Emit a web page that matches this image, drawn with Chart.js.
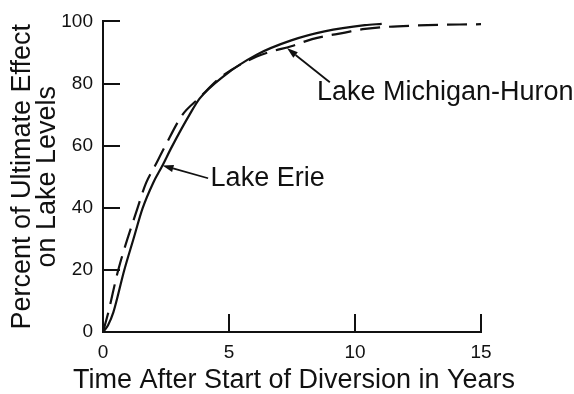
<!DOCTYPE html>
<html>
<head>
<meta charset="utf-8">
<script src="https://cdn.jsdelivr.net/npm/chart.js@4"></script>
<style>
  html, body { margin: 0; padding: 0; background: #fff; }
  #wrap { width: 574px; height: 394px; }
</style>
</head>
<body>
<div id="wrap"><canvas id="chart" width="574" height="394"></canvas></div>
<script>
// Response of lake levels after the start of a diversion (percent of ultimate effect)
const erieYears = [0, 0.2, 0.41, 0.84, 1.2, 1.57, 1.99, 2.36, 2.73, 3.43, 3.84, 4.78, 6.1, 7.47, 8.79, 10.39, 11.06];
const erieEffect = [0, 2.2, 6.3, 19.8, 29.7, 39.8, 48.0, 53.6, 59.6, 69.9, 75.2, 82.3, 89.3, 93.9, 96.8, 98.8, 99.2];

const michHuronYears = [0, 0.21, 0.6, 1.37, 1.71, 2.07, 2.45, 3.15, 3.8, 4.72, 6.1, 6.67, 7.47, 8.3, 9.6, 10.4, 12.5, 15];
const michHuronEffect = [0, 6.3, 19.8, 39.9, 48.0, 53.6, 59.6, 69.9, 75.2, 82.3, 88.7, 90.3, 92.0, 94.3, 96.4, 97.6, 98.7, 99.1];

const xTicks = [0, 5, 10, 15];
const yTicks = [0, 20, 40, 60, 80, 100];

const xTitle = 'Time After Start of Diversion in Years';
const yTitle = ['Percent of Ultimate Effect', 'on Lake Levels'];

const INK = '#111';
const FONT = "'Liberation Sans', Arial, Helvetica, sans-serif";

// Callout labels with leader arrows, placed in data units
const callouts = [
  { text: 'Lake Erie', tip: [2.36, 53.6], tail: [4.17, 49.5], label: [4.27, 47.0] },
  { text: 'Lake Michigan-Huron', tip: [7.3, 91.4], tail: [9.0, 80.4], label: [8.49, 74.8] }
];

const pairs = (xs, ys) => xs.map((x, i) => ({ x, y: ys[i] }));

// Tick marks drawn inward from the axis lines
const inwardTicks = {
  id: 'inwardTicks',
  afterDatasetsDraw(chart) {
    const { ctx, chartArea, scales } = chart;
    ctx.save();
    ctx.strokeStyle = INK;
    ctx.lineWidth = 2;
    ctx.lineCap = 'butt';
    yTicks.forEach(v => {
      if (v === 0) return;
      const y = Math.round(scales.y.getPixelForValue(v));
      ctx.beginPath();
      ctx.moveTo(chartArea.left, y);
      ctx.lineTo(chartArea.left + 17, y);
      ctx.stroke();
    });
    xTicks.forEach(v => {
      if (v === 0) return;
      const x = Math.round(scales.x.getPixelForValue(v));
      ctx.beginPath();
      ctx.moveTo(x, chartArea.bottom);
      ctx.lineTo(x, chartArea.bottom - 18);
      ctx.stroke();
    });
    ctx.restore();
  }
};

// Callouts and the horizontal axis title (drawn at full width, not squeezed to the axis length)
const textPlugin = {
  id: 'callouts',
  afterDatasetsDraw(chart) {
    const { ctx, scales, chartArea } = chart;
    const px = p => [scales.x.getPixelForValue(p[0]), scales.y.getPixelForValue(p[1])];
    ctx.save();
    ctx.strokeStyle = INK;
    ctx.fillStyle = INK;
    ctx.lineWidth = 1.8;
    callouts.forEach(c => {
      const [tx, ty] = px(c.tip);
      const [lx, ly] = px(c.tail);
      const ang = Math.atan2(ty - ly, tx - lx);
      const head = 11, half = 3.6;
      const bx = tx - head * Math.cos(ang), by = ty - head * Math.sin(ang);
      ctx.beginPath();
      ctx.moveTo(lx, ly);
      ctx.lineTo(bx, by);
      ctx.stroke();
      ctx.beginPath();
      ctx.moveTo(tx, ty);
      ctx.lineTo(bx + half * Math.sin(ang), by - half * Math.cos(ang));
      ctx.lineTo(bx - half * Math.sin(ang), by + half * Math.cos(ang));
      ctx.closePath();
      ctx.fill();
      const [sx, sy] = px(c.label);
      ctx.font = `27px ${FONT}`;
      ctx.textAlign = 'left';
      ctx.textBaseline = 'alphabetic';
      ctx.fillText(c.text, sx, sy);
    });
    ctx.font = `27px ${FONT}`;
    ctx.textAlign = 'center';
    ctx.textBaseline = 'alphabetic';
    ctx.fillText(xTitle, (chartArea.left + chartArea.right) / 2 + 2, scales.x.bottom - 6);
    ctx.restore();
  }
};

new Chart(document.getElementById('chart'), {
  type: 'line',
  data: {
    datasets: [
      {
        label: 'Lake Erie',
        data: pairs(erieYears, erieEffect),
        borderColor: INK,
        borderWidth: 2.2,
        pointRadius: 0,
        fill: false,
        cubicInterpolationMode: 'monotone'
      },
      {
        label: 'Lake Michigan-Huron',
        data: pairs(michHuronYears, michHuronEffect),
        borderColor: INK,
        borderWidth: 2.2,
        borderDash: [20, 9],
        pointRadius: 0,
        fill: false,
        cubicInterpolationMode: 'monotone'
      }
    ]
  },
  options: {
    responsive: false,
    animation: false,
    layout: { padding: { top: 15, right: 93, left: 0, bottom: 0 } },
    plugins: { legend: { display: false }, tooltip: { enabled: false } },
    scales: {
      x: {
        type: 'linear',
        min: 0,
        max: 15,
        afterBuildTicks: s => { s.ticks = xTicks.map(v => ({ value: v })); },
        afterFit: s => { s.height = 62; },
        grid: { display: false, drawTicks: false },
        border: { display: true, color: INK, width: 2 },
        ticks: { padding: 9, color: INK, font: { family: FONT, size: 19 } },
        title: { display: false }
      },
      y: {
        type: 'linear',
        min: 0,
        max: 100,
        afterBuildTicks: s => { s.ticks = yTicks.map(v => ({ value: v })); },
        afterFit: s => { s.width = 103; },
        grid: { display: false, drawTicks: false },
        border: { display: true, color: INK, width: 2 },
        ticks: { padding: 10, color: INK, font: { family: FONT, size: 19 } },
        title: {
          display: true,
          text: yTitle,
          color: INK,
          font: { family: FONT, size: 27, lineHeight: 0.93 },
          padding: { top: 10, bottom: 0 }
        }
      }
    }
  },
  plugins: [inwardTicks, textPlugin]
});
</script>
</body>
</html>
